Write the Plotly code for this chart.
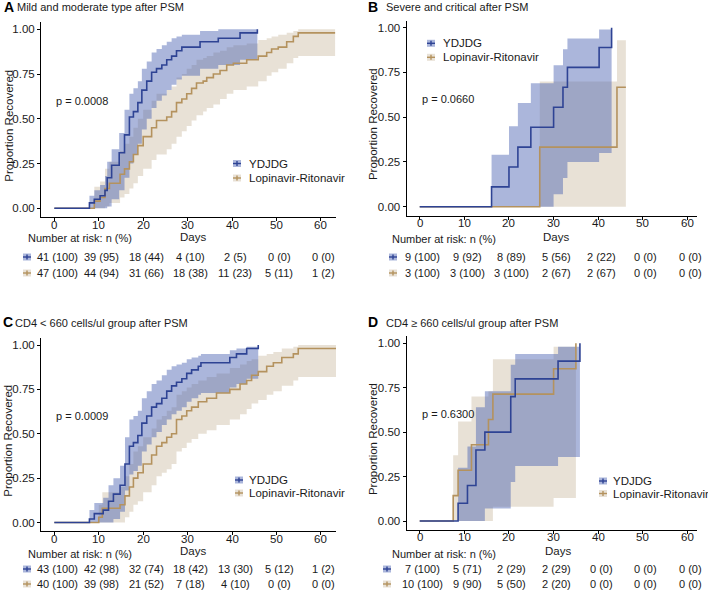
import plotly.graph_objects as go

W, H = 708, 595

# ---------------- data ----------------
# Panel A: Mild and moderate type
A_ydj_t  = [0, 7.9, 9.0, 10.3, 11.4, 11.9, 12.9, 14.6, 15.8, 16.9, 17.8, 18.8, 19.7, 20.8, 21.9, 23.0, 24.2, 25.3, 26.4, 27.5, 28.7, 32.8, 36.9, 41.8, 45.7]
A_ydj_p  = [0, 0.03, 0.05, 0.07, 0.10, 0.17, 0.24, 0.31, 0.41, 0.51, 0.54, 0.59, 0.66, 0.71, 0.76, 0.78, 0.80, 0.83, 0.85, 0.88, 0.90, 0.93, 0.95, 0.98, 1.00]
A_ydj_lo = [0, 0, 0, 0, 0, 0.01, 0.05, 0.10, 0.17, 0.25, 0.30, 0.36, 0.44, 0.50, 0.56, 0.60, 0.63, 0.66, 0.69, 0.72, 0.74, 0.78, 0.80, 0.83, 0.85]
A_ydj_hi = [0, 0.07, 0.10, 0.13, 0.18, 0.26, 0.33, 0.42, 0.55, 0.64, 0.67, 0.71, 0.78, 0.82, 0.87, 0.89, 0.91, 0.93, 0.95, 0.96, 0.97, 0.99, 1.0, 1.0, 1.0]

A_lpv_t  = [0, 9.0, 10.3, 11.4, 12.4, 14.8, 15.8, 16.9, 17.8, 18.8, 20.0, 21.9, 23.0, 25.3, 26.4, 27.5, 28.7, 29.8, 30.9, 32.0, 33.5, 34.3, 35.8, 37.3, 38.8, 40.3, 43.3, 45.9, 47.8, 48.9, 50.4, 52.3, 53.8, 54.9, 63.2]
A_lpv_p  = [0, 0.04, 0.06, 0.11, 0.14, 0.19, 0.22, 0.26, 0.30, 0.35, 0.40, 0.45, 0.49, 0.51, 0.54, 0.59, 0.61, 0.64, 0.67, 0.70, 0.71, 0.73, 0.75, 0.77, 0.80, 0.81, 0.83, 0.85, 0.87, 0.89, 0.90, 0.93, 0.96, 0.98, 0.98]
A_lpv_lo = [0, 0, 0, 0.01, 0.03, 0.06, 0.08, 0.11, 0.14, 0.18, 0.22, 0.27, 0.30, 0.33, 0.36, 0.40, 0.43, 0.46, 0.49, 0.52, 0.54, 0.56, 0.58, 0.61, 0.64, 0.66, 0.68, 0.71, 0.74, 0.76, 0.78, 0.81, 0.84, 0.85, 0.85]
A_lpv_hi = [0, 0.12, 0.15, 0.22, 0.26, 0.32, 0.36, 0.40, 0.45, 0.50, 0.55, 0.60, 0.64, 0.66, 0.68, 0.73, 0.75, 0.78, 0.80, 0.83, 0.84, 0.85, 0.87, 0.88, 0.90, 0.91, 0.92, 0.94, 0.95, 0.96, 0.97, 0.98, 0.99, 1.0, 1.0]

# Panel B: Severe and critical
B_ydj_t  = [0, 16.1, 20.0, 22.0, 24.9, 30.0, 32.1, 33.1, 40.2, 43.0]
B_ydj_p  = [0, 0.111, 0.222, 0.333, 0.444, 0.556, 0.667, 0.778, 0.889, 1.0]
B_ydj_lo = [0, 0, 0, 0, 0, 0.07, 0.16, 0.25, 0.30, 0.30]
B_ydj_hi = [0, 0.29, 0.45, 0.58, 0.69, 0.79, 0.88, 0.94, 0.99, 0.99]

B_lpv_t  = [0, 26.9, 44.2, 46.2]
B_lpv_p  = [0, 0.333, 0.667, 0.667]
B_lpv_lo = [0, 0, 0, 0]
B_lpv_hi = [0, 0.70, 0.93, 0.93]

# Panel C: CD4 < 660
C_ydj_t  = [0, 7.9, 9.0, 11.0, 12.2, 13.3, 14.8, 15.9, 16.9, 17.8, 18.8, 19.7, 20.8, 21.9, 23.0, 24.2, 25.3, 26.4, 27.5, 28.7, 29.8, 30.9, 32.4, 33.0, 39.5, 41.0, 43.3, 45.9]
C_ydj_p  = [0, 0.02, 0.05, 0.07, 0.12, 0.16, 0.21, 0.33, 0.43, 0.45, 0.49, 0.56, 0.60, 0.65, 0.67, 0.70, 0.74, 0.77, 0.79, 0.81, 0.84, 0.86, 0.88, 0.90, 0.93, 0.95, 0.98, 1.0]
C_ydj_lo = [0, 0, 0, 0, 0, 0.02, 0.06, 0.18, 0.27, 0.29, 0.32, 0.40, 0.44, 0.48, 0.51, 0.55, 0.58, 0.61, 0.63, 0.65, 0.68, 0.70, 0.72, 0.73, 0.76, 0.78, 0.81, 0.83]
C_ydj_hi = [0, 0.07, 0.11, 0.14, 0.21, 0.25, 0.32, 0.48, 0.58, 0.60, 0.63, 0.70, 0.74, 0.78, 0.80, 0.83, 0.86, 0.88, 0.89, 0.90, 0.92, 0.93, 0.94, 0.95, 0.97, 0.98, 0.99, 1.0]

C_lpv_t  = [0, 10.0, 10.8, 14.8, 15.9, 16.9, 17.8, 18.8, 20.0, 21.9, 23.0, 24.2, 25.3, 26.4, 27.5, 28.7, 29.8, 30.9, 32.4, 34.3, 36.5, 39.5, 41.8, 43.3, 44.4, 45.9, 47.8, 49.3, 51.2, 53.8, 54.9, 63.5]
C_lpv_p  = [0, 0.03, 0.08, 0.10, 0.15, 0.20, 0.25, 0.28, 0.33, 0.38, 0.43, 0.45, 0.48, 0.50, 0.58, 0.60, 0.63, 0.65, 0.68, 0.70, 0.73, 0.75, 0.78, 0.80, 0.83, 0.85, 0.88, 0.90, 0.93, 0.95, 0.98, 0.98]
C_lpv_lo = [0, 0, 0, 0, 0.03, 0.06, 0.10, 0.12, 0.17, 0.21, 0.26, 0.28, 0.30, 0.33, 0.40, 0.42, 0.45, 0.47, 0.50, 0.52, 0.55, 0.58, 0.61, 0.64, 0.67, 0.69, 0.72, 0.74, 0.77, 0.80, 0.82, 0.82]
C_lpv_hi = [0, 0.10, 0.17, 0.20, 0.26, 0.33, 0.40, 0.43, 0.48, 0.53, 0.58, 0.60, 0.63, 0.65, 0.72, 0.74, 0.76, 0.78, 0.80, 0.82, 0.84, 0.87, 0.89, 0.91, 0.92, 0.94, 0.95, 0.96, 0.98, 0.99, 1.0, 1.0]

# Panel D: CD4 >= 660
D_ydj_t  = [0, 8.6, 10.7, 12.6, 14.6, 20.4, 21.4, 31.0, 35.9]
D_ydj_p  = [0, 0.1, 0.2, 0.4, 0.5, 0.7, 0.8, 0.9, 1.0]
D_ydj_lo = [0, 0, 0, 0, 0.07, 0.22, 0.31, 0.36, 0.36]
D_ydj_hi = [0, 0.30, 0.42, 0.64, 0.73, 0.88, 0.94, 0.98, 0.98]

D_lpv_t  = [0, 7.5, 8.6, 11.6, 15.4, 16.4, 30.0, 35.0]
D_lpv_p  = [0, 0.143, 0.286, 0.429, 0.571, 0.714, 0.857, 1.0]
D_lpv_lo = [0, 0, 0, 0, 0, 0.08, 0.13, 0.13]
D_lpv_hi = [0, 0.37, 0.56, 0.70, 0.73, 0.91, 0.98, 0.98]

# Risk tables
risk_days = [0, 10, 20, 30, 40, 50, 60]
A_risk_ydj = ["41 (100)", "39 (95)", "18 (44)", "4 (10)", "2 (5)", "0 (0)", "0 (0)"]
A_risk_lpv = ["47 (100)", "44 (94)", "31 (66)", "18 (38)", "11 (23)", "5 (11)", "1 (2)"]
B_risk_ydj = ["9 (100)", "9 (92)", "8 (89)", "5 (56)", "2 (22)", "0 (0)", "0 (0)"]
B_risk_lpv = ["3 (100)", "3 (100)", "3 (100)", "2 (67)", "2 (67)", "0 (0)", "0 (0)"]
C_risk_ydj = ["43 (100)", "42 (98)", "32 (74)", "18 (42)", "13 (30)", "5 (12)", "1 (2)"]
C_risk_lpv = ["40 (100)", "39 (98)", "21 (52)", "7 (18)", "4 (10)", "0 (0)", "0 (0)"]
D_risk_ydj = ["7 (100)", "5 (71)", "2 (29)", "2 (29)", "0 (0)", "0 (0)", "0 (0)"]
D_risk_lpv = ["10 (100)", "9 (90)", "5 (50)", "2 (20)", "0 (0)", "0 (0)", "0 (0)"]

panel_letters = ["A", "B", "C", "D"]
panel_titles = ["Mild and moderate type after PSM", "Severe and critical after PSM",
                "CD4 < 660 cells/ul group after PSM", "CD4 \u2265 660 cells/ul group after PSM"]
p_values = ["p = 0.0008", "p = 0.0660", "p = 0.0009", "p = 0.6300"]
group_names = ["YDJDG", "Lopinavir-Ritonavir"]
x_ticks = [0, 10, 20, 30, 40, 50, 60]
y_ticks = [0, 0.25, 0.5, 0.75, 1.0]

# ---------------- styling ----------------
FONT = "Arial, Liberation Sans, sans-serif"
TXT = "#1a1a1a"
BLUE_LINE = "#2E4394"
BROWN_LINE = "#B4925E"
BLUE_FILL = "rgba(72,96,176,0.46)"
BROWN_FILL = "rgba(203,188,163,0.45)"

def X(px):
    return px / W

def Y(py):
    return 1 - py / H

# layout of each panel in pixel units
panels = [
    dict(key="A", xd=(41, 336), yd=(22.1, 217.2), xr=(-3.0, 63.4),
         title_y=7, letter_x=2, title_x=15,
         leg_icon_x=233, leg_text_x=247, leg_y=(163.5, 178),
         ytitle_x=9, days_x=193, days_y=237, nar_x=26, nar_y=238,
         risk_icon_x=23, risk_y=(257, 273)),
    dict(key="B", xd=(406.5, 697.3), yd=(20.5, 215.7), xr=(-2.96, 62.2),
         title_y=7, letter_x=366, title_x=384,
         leg_icon_x=427, leg_text_x=441, leg_y=(43.3, 57.3),
         ytitle_x=373, days_x=556, days_y=237, nar_x=390, nar_y=239,
         risk_icon_x=389, risk_y=(257, 273)),
    dict(key="C", xd=(41, 336), yd=(337.9, 531.4), xr=(-3.0, 63.4),
         title_y=322, letter_x=1, title_x=13,
         leg_icon_x=235, leg_text_x=247, leg_y=(480, 493),
         ytitle_x=8, days_x=193, days_y=551, nar_x=26, nar_y=554,
         risk_icon_x=23, risk_y=(569, 584)),
    dict(key="D", xd=(406.5, 697.3), yd=(336.2, 529.9), xr=(-2.96, 62.2),
         title_y=322, letter_x=366, title_x=384,
         leg_icon_x=599, leg_text_x=611, leg_y=(481, 493.5),
         ytitle_x=373, days_x=558, days_y=551, nar_x=390, nar_y=554,
         risk_icon_x=383, risk_y=(569, 584)),
]

series = {
    "A": ((A_ydj_t, A_ydj_p, A_ydj_lo, A_ydj_hi), (A_lpv_t, A_lpv_p, A_lpv_lo, A_lpv_hi),
          (A_risk_ydj, A_risk_lpv)),
    "B": ((B_ydj_t, B_ydj_p, B_ydj_lo, B_ydj_hi), (B_lpv_t, B_lpv_p, B_lpv_lo, B_lpv_hi),
          (B_risk_ydj, B_risk_lpv)),
    "C": ((C_ydj_t, C_ydj_p, C_ydj_lo, C_ydj_hi), (C_lpv_t, C_lpv_p, C_lpv_lo, C_lpv_hi),
          (C_risk_ydj, C_risk_lpv)),
    "D": ((D_ydj_t, D_ydj_p, D_ydj_lo, D_ydj_hi), (D_lpv_t, D_lpv_p, D_lpv_lo, D_lpv_hi),
          (D_risk_ydj, D_risk_lpv)),
}

fig = go.Figure()
annotations = []
shapes = []

def band(t, lo, hi, fill, xa, ya):
    fig.add_trace(go.Scatter(x=t, y=lo, mode="lines", line=dict(width=0, shape="hv"),
                             xaxis=xa, yaxis=ya, showlegend=False, hoverinfo="skip"))
    fig.add_trace(go.Scatter(x=t, y=hi, mode="lines", line=dict(width=0, shape="hv"),
                             fill="tonexty", fillcolor=fill,
                             xaxis=xa, yaxis=ya, showlegend=False, hoverinfo="skip"))

def icon(x0, yc, fill, line):
    # small legend key: filled square with a "+" mark
    shapes.append(dict(type="rect", xref="paper", yref="paper",
                       x0=X(x0), x1=X(x0 + 8), y0=Y(yc + 3.5), y1=Y(yc - 3.5),
                       fillcolor=fill, line=dict(width=0)))
    shapes.append(dict(type="line", xref="paper", yref="paper",
                       x0=X(x0), x1=X(x0 + 8), y0=Y(yc), y1=Y(yc),
                       line=dict(color=line, width=1.4)))
    shapes.append(dict(type="line", xref="paper", yref="paper",
                       x0=X(x0 + 4), x1=X(x0 + 4), y0=Y(yc - 2.5), y1=Y(yc + 2.5),
                       line=dict(color=line, width=1.4)))

layout_axes = {}
for i, pn in enumerate(panels):
    n = i + 1
    xa = "x" if n == 1 else f"x{n}"
    ya = "y" if n == 1 else f"y{n}"
    xkey = "xaxis" if n == 1 else f"xaxis{n}"
    ykey = "yaxis" if n == 1 else f"yaxis{n}"
    g1, g2, risks = series[pn["key"]]

    band(g2[0], g2[2], g2[3], BROWN_FILL, xa, ya)
    band(g1[0], g1[2], g1[3], BLUE_FILL, xa, ya)
    fig.add_trace(go.Scatter(x=g2[0], y=g2[1], mode="lines",
                             line=dict(color=BROWN_LINE, width=1.6, shape="hv"),
                             xaxis=xa, yaxis=ya, showlegend=False, hoverinfo="skip"))
    fig.add_trace(go.Scatter(x=g1[0], y=g1[1], mode="lines",
                             line=dict(color=BLUE_LINE, width=1.6, shape="hv"),
                             xaxis=xa, yaxis=ya, showlegend=False, hoverinfo="skip"))

    common = dict(showline=True, linecolor="black", linewidth=1, ticks="outside",
                  ticklen=3, tickcolor="black", tickwidth=1, showgrid=False, zeroline=False,
                  tickfont=dict(family=FONT, size=11.5, color=TXT))
    layout_axes[xkey] = dict(common, domain=[X(pn["xd"][0]), X(pn["xd"][1])],
                             range=list(pn["xr"]), tickvals=x_ticks, anchor=ya,
                             showticklabels=False)
    layout_axes[ykey] = dict(common, domain=[Y(pn["yd"][1]), Y(pn["yd"][0])],
                             range=[-0.05, 1.04], tickvals=y_ticks,
                             ticktext=[f"{v:.2f}" for v in y_ticks], anchor=xa)

    # x tick labels (placed close to the axis like the reference)
    for v in x_ticks:
        annotations.append(dict(text=str(v), x=v, y=Y(pn["yd"][1] + 7.5), xref=xa, yref="paper",
                                xanchor="center", yanchor="middle", showarrow=False,
                                font=dict(family=FONT, size=11.5, color=TXT)))
    # titles
    annotations.append(dict(text="<b>" + panel_letters[i] + "</b>", x=X(pn["letter_x"]), y=Y(pn["title_y"]),
                            xref="paper", yref="paper", xanchor="left", yanchor="middle",
                            showarrow=False, font=dict(family=FONT, size=14, color="black")))
    annotations.append(dict(text=panel_titles[i], x=X(pn["title_x"]), y=Y(pn["title_y"] + 0.5),
                            xref="paper", yref="paper", xanchor="left", yanchor="middle",
                            showarrow=False, font=dict(family=FONT, size=11, color=TXT)))
    # y title
    yc = (pn["yd"][0] + pn["yd"][1]) / 2
    annotations.append(dict(text="Proportion Recovered", x=X(pn["ytitle_x"]), y=Y(yc + 6),
                            xref="paper", yref="paper", xanchor="center", yanchor="middle",
                            textangle=-90, showarrow=False,
                            font=dict(family=FONT, size=11.5, color=TXT)))
    # p-value
    annotations.append(dict(text=p_values[i], x=0, y=0.6, xref=xa, yref=ya,
                            xanchor="left", yanchor="middle", showarrow=False,
                            font=dict(family=FONT, size=11, color=TXT)))
    # legend
    for gi, (fc, lc) in enumerate([(BLUE_FILL, BLUE_LINE), (BROWN_FILL, BROWN_LINE)]):
        icon(pn["leg_icon_x"], pn["leg_y"][gi], fc, lc)
        annotations.append(dict(text=group_names[gi], x=X(pn["leg_text_x"]), y=Y(pn["leg_y"][gi]),
                                xref="paper", yref="paper", xanchor="left", yanchor="middle",
                                showarrow=False, font=dict(family=FONT, size=11.5, color=TXT)))
    # Days + Number at risk
    annotations.append(dict(text="Days", x=X(pn["days_x"]), y=Y(pn["days_y"]),
                            xref="paper", yref="paper", xanchor="center", yanchor="middle",
                            showarrow=False, font=dict(family=FONT, size=11.5, color=TXT)))
    annotations.append(dict(text="Number at risk: n (%)", x=X(pn["nar_x"]), y=Y(pn["nar_y"]),
                            xref="paper", yref="paper", xanchor="left", yanchor="middle",
                            showarrow=False, font=dict(family=FONT, size=11, color=TXT)))
    for gi, (fc, lc) in enumerate([(BLUE_FILL, BLUE_LINE), (BROWN_FILL, BROWN_LINE)]):
        icon(pn["risk_icon_x"], pn["risk_y"][gi], fc, lc)
        for d, s in zip(risk_days, risks[gi]):
            annotations.append(dict(text=s, x=d, y=Y(pn["risk_y"][gi]), xref=xa, yref="paper",
                                    xanchor="center", yanchor="middle", xshift=3,
                                    showarrow=False, font=dict(family=FONT, size=11, color=TXT)))

fig.update_layout(width=W, height=H, margin=dict(l=0, r=0, t=0, b=0),
                  paper_bgcolor="white", plot_bgcolor="white",
                  annotations=annotations, shapes=shapes, showlegend=False,
                  hovermode=False, **layout_axes)

fig.write_html("out.html", config={"displayModeBar": False, "staticPlot": True},
               post_script="document.body.style.margin='0px';document.body.style.overflow='hidden';")
